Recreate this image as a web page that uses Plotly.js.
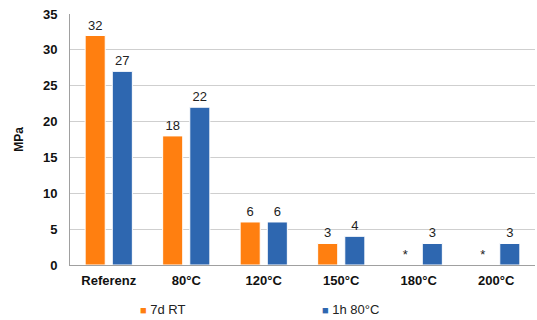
<!DOCTYPE html>
<html><head><meta charset="utf-8">
<script src="https://cdn.plot.ly/plotly-3.0.1.min.js"></script>
<style>body{margin:0}#c{width:537px;height:320px}</style>
</head><body><div id="c"></div>
<script>
const categories = ["Referenz","80°C","120°C","150°C","180°C","200°C"];
const series1Name = "7d RT";
const series1 = [32,18,6,3,0,0];
const series1Labels = ["32","18","6","3","*","*"];
const series2Name = "1h 80°C";
const series2 = [27,22,6,4,3,3];
const series2Labels = ["27","22","6","4","3","3"];
const yTicks = [0,5,10,15,20,25,30,35];
const colors = ['#FF7F10', '#2E67B0'];

const common = {type:'bar', x:categories, textposition:'outside', cliponaxis:false,
  textfont:{family:'Liberation Sans, Arial', size:13, color:'#222'}, hoverinfo:'none', showlegend:false};
const data = [
  Object.assign({}, common, {name:series1Name, y:series1, text:series1Labels,
    marker:{color:colors[0], line:{color:'#ffffff', width:1}}}),
  Object.assign({}, common, {name:series2Name, y:series2, text:series2Labels,
    marker:{color:colors[1], line:{color:'#ffffff', width:1}}})
];
const legendNames = [series1Name, series2Name];
const legendX = [138, 320];
const annotations = legendNames.map((n, i) => ({
  xref:'paper', yref:'paper', x:(legendX[i]-70)/465, y:-(309-265)/251, xanchor:'left', yanchor:'middle',
  showarrow:false, align:'left',
  text:'<span style="color:'+colors[i]+';font-size:11px">■</span> '+n,
  font:{size:13, color:'#222', family:'Liberation Sans, Arial'}
}));
const layout = {
  width:537, height:320,
  margin:{l:70, r:2, t:14, b:55, autoexpand:false},
  paper_bgcolor:'#fff', plot_bgcolor:'#fff',
  font:{family:'Liberation Sans, Arial', size:13, color:'#222'},
  bargap:0.30, bargroupgap:0.26,
  showlegend:false,
  annotations:annotations,
  xaxis:{tickfont:{size:13, color:'#111', family:'Liberation Sans, Arial', weight:'bold'},
    showline:true, linecolor:'#a0a0a0', linewidth:1, ticks:'', showgrid:false, fixedrange:true,
    ticklabelstandoff:3},
  yaxis:{range:[0,35], tickvals:yTicks, tickfont:{size:13, color:'#111', weight:'bold'},
    showline:true, linecolor:'#a0a0a0', linewidth:1, showgrid:true, gridcolor:'#cfcfcf',
    ticks:'', ticklabelstandoff:9, zeroline:false,
    title:{text:'MPa', font:{size:12, color:'#111', weight:'bold'}, standoff:16}, fixedrange:true}
};
Plotly.newPlot('c', data, layout, {displayModeBar:false, staticPlot:true});
</script></body></html>
